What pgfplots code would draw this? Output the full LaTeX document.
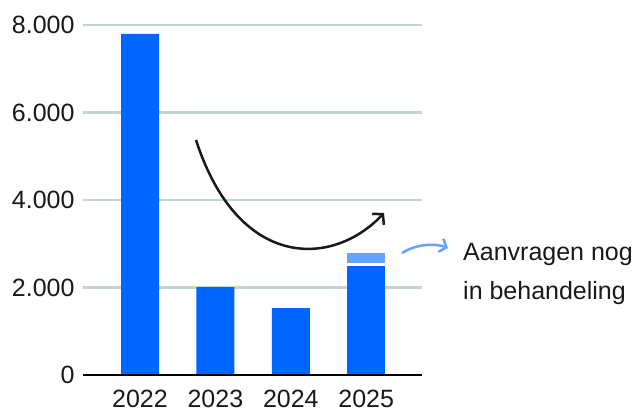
\documentclass[border=0pt]{standalone}
\usepackage{fontspec}
\setmainfont{Liberation Sans}
\usepackage{pgfplots}
\pgfplotsset{compat=1.18}
\usetikzlibrary{arrows.meta}
\definecolor{barblue}{RGB}{0,102,255}
\definecolor{lightblue}{RGB}{102,163,255}
\definecolor{gridc}{RGB}{196,214,209}
\definecolor{txt}{RGB}{25,25,25}
\begin{document}
\fontsize{25bp}{30bp}\selectfont
\begin{tikzpicture}[x=1bp,y=1bp]
\useasboundingbox (-83,-42) rectangle (554,375);
\begin{axis}[
  at={(0,0)}, anchor=south west,
  scale only axis, width=339bp, height=350bp,
  xmin=-0.756, xmax=3.74, ymin=0, ymax=8000,
  axis x line*=bottom, axis y line*=left,
  axis line style={draw=none},
  ytick={0,2000,4000,6000,8000},
  xtick={0,1,2,3}, xticklabels={2022,2023,2024,2025},
  major tick length=0pt,
  ymajorgrids, grid style={gridc, line width=2.2bp},
  tick label style={font=\fontsize{25bp}{30bp}\selectfont, text=txt},
  xticklabel style={yshift=-7bp},
  /pgf/number format/.cd, 1000 sep={.}, assume math mode=true,
  /pgfplots/.cd,
  clip=false,
]
\addplot[ybar, bar width=38bp, bar shift=0pt, fill=barblue, draw=none]
  coordinates {(0,7800) (1,2010) (2,1530)};
\addplot[ybar, bar width=38bp, bar shift=0pt, fill=lightblue, draw=none]
  coordinates {(3,2790)};
\addplot[ybar, bar width=38bp, bar shift=0pt, fill=white, draw=none]
  coordinates {(3,2550)};
\addplot[ybar, bar width=38bp, bar shift=0pt, fill=barblue, draw=none]
  coordinates {(3,2500)};
\draw[black, line width=2.5bp] (rel axis cs:0,0) -- (rel axis cs:1,0);
\draw[txt, line width=2.5bp, -{Straight Barb[length=7bp, width=16bp]}]
  (axis cs:0.743,5371) .. controls (axis cs:1.3,2400) and (axis cs:2.55,2450) .. (axis cs:3.236,3703);
\end{axis}
\draw[lightblue, line width=2.5bp, -{Straight Barb[length=6bp, width=14bp]}]
  (319,122) .. controls (333,131) and (352,132) .. (365,127);
\node[anchor=base west, inner sep=0pt, text=txt] at (380,115) {Aanvragen nog};
\node[anchor=base west, inner sep=0pt, text=txt] at (380,76) {in behandeling};
\end{tikzpicture}
\end{document}
